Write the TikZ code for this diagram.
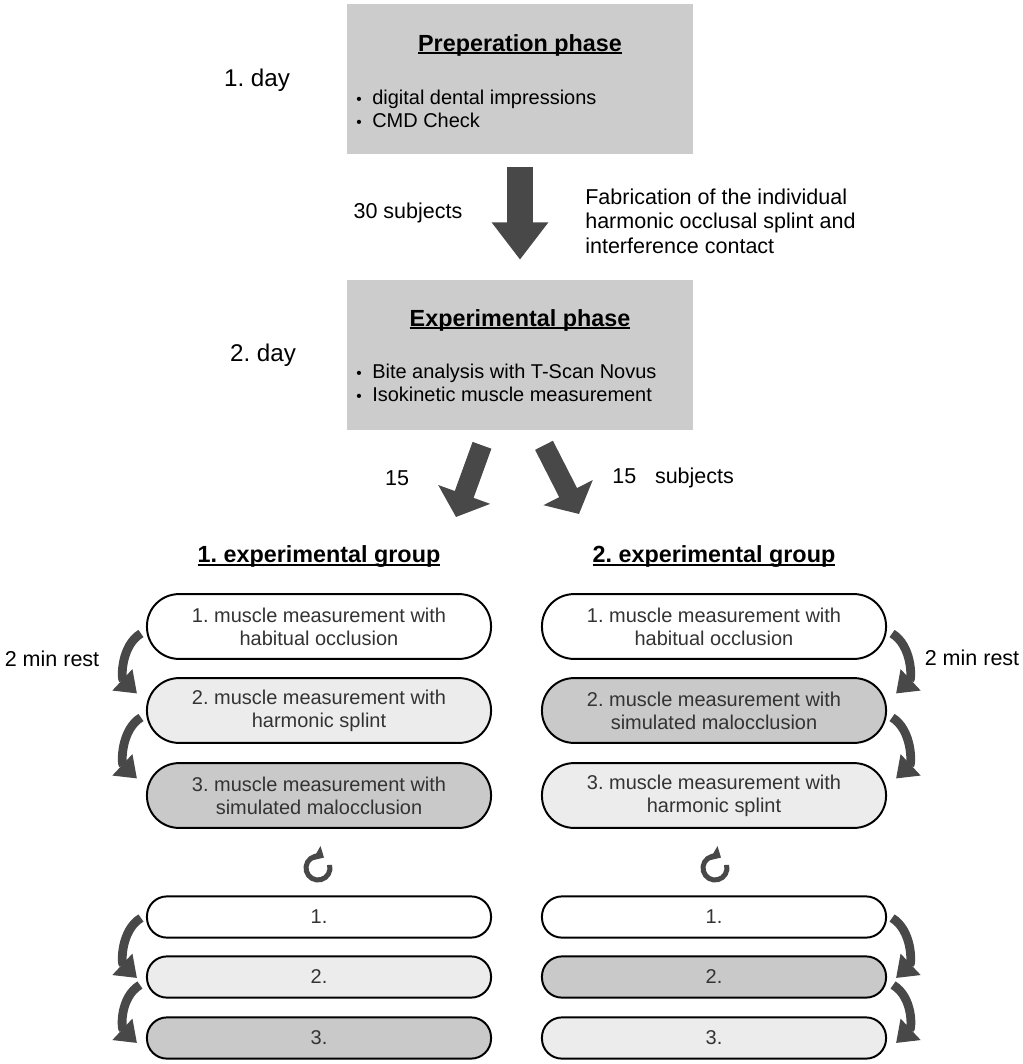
\documentclass[tikz,border=0pt]{standalone}
\usepackage{fontspec}
\setmainfont{Liberation Sans}
\usetikzlibrary{arrows.meta, positioning}
\definecolor{phasegray}{RGB}{204,204,204}
\definecolor{lightgray}{RGB}{236,236,236}
\definecolor{midgray}{RGB}{201,201,201}
\definecolor{arrowgray}{RGB}{72,72,72}
\definecolor{boxtext}{RGB}{51,51,51}
\frenchspacing
\newcommand{\bodyfont}{\fontsize{14.2}{16.4}\selectfont}
\newcommand{\headfont}{\fontsize{16.6}{20}\selectfont\bfseries}
\newcommand{\labelfont}{\fontsize{15.3}{17.4}\selectfont}
\newcommand{\dayfont}{\fontsize{17.2}{20}\selectfont}
\newcommand{\itm}{\makebox[0.4cm][l]{\fontsize{11}{12}\selectfont\textbullet}}
\newsavebox{\headbox}
\newcommand{\headline}[1]{\sbox\headbox{#1}\rlap{\rule[-2pt]{\wd\headbox}{1.1pt}}\usebox\headbox}

\begin{document}
\begin{tikzpicture}[x=0.025cm, y=-0.025cm,
    phase/.style={fill=phasegray, minimum width=8.65cm, minimum height=3.75cm, inner sep=0pt},
    stepbox/.style={draw=black, line width=1.4pt, rounded corners=0.8cm, minimum width=8.6cm,
      minimum height=1.62cm, align=center, text=boxtext, font=\bodyfont, inner sep=0pt},
    shortbox/.style={stepbox, rounded corners=0.5cm, minimum height=1.03cm},
    bigarrow/.style={line width=0.65cm, arrowgray, -{Triangle[width=1.35cm, length=0.93cm]}},
    splitarrow/.style={line width=0.5cm, arrowgray, -{Triangle[width=1.35cm, length=0.6cm]}},
    turn/.style={line width=0.22cm, arrowgray, -{Triangle[width=0.7cm, length=0.5cm]}},
    redo/.style={line width=0.125cm, arrowgray, -{Triangle[width=0.4cm, length=0.22cm]}}]
    \useasboundingbox (0,0) rectangle (1022,1064);

    % Preparation phase, day 1
    \node[phase] (prep) at (520,79) {};
    \node[font=\headfont] (preptitle) at (520,45) {\headline{Preperation phase}};
    \node[font=\bodyfont, align=left, anchor=west, inner sep=0pt] (preplist) at (356,108.5)
      {\itm digital dental impressions\\ \itm CMD Check};
    \node[font=\dayfont] (day1) at (257,80) {1. day};

    % Experimental phase, day 2
    \node[phase] (exp) at (520,355) {};
    \node[font=\headfont] (exptitle) at (520,320) {\headline{Experimental phase}};
    \node[font=\bodyfont, align=left, anchor=west, inner sep=0pt] (explist) at (356,382.5)
      {\itm Bite analysis with T-Scan Novus\\ \itm Isokinetic muscle measurement};
    \node[font=\dayfont] (day2) at (263,355) {2. day};

    % From day 1 to day 2
    \draw[bigarrow, shorten <=0.325cm, shorten >=0.5cm] (prep.south) -- (exp.north);
    \node[font=\labelfont] (n30) at (408,213) {30 subjects};
    \node[font=\labelfont, align=left, anchor=west, inner sep=0pt] (fab) at (585,221)
      {Fabrication of the individual\\ harmonic occlusal splint and\\ interference contact};

    % Split into the two groups
    \coordinate (tip1) at (456,517);
    \coordinate (tip2) at (579,514);
    \draw[splitarrow] ([shift={(-38,15)}]exp.south) -- (tip1);
    \draw[splitarrow] ([shift={(24,15)}]exp.south) -- (tip2);
    \node[font=\labelfont] (n15a) at (397,478) {15};
    \node[font=\labelfont, anchor=west, inner sep=0pt] (n15b) at (612,478) {15\hspace{0.47cm}subjects};

    % Group 1
    \node[font=\headfont] (g1title) at (319,557) {\headline{1. experimental group}};
    \node[stepbox, fill=white] (a1) at (319,626.5) {1. muscle measurement with\\ habitual occlusion};
    \node[stepbox, fill=lightgray] (a2) at (319,710.5) {2. muscle measurement with\\ harmonic splint};
    \node[stepbox, fill=midgray] (a3) at (319,795.5) {3. muscle measurement with\\ simulated malocclusion};
    \draw[turn] ([shift={(-5,7)}]a1.west) .. controls +(-20,12) and +(-16,-15) .. ([shift={(-9,-17)}]a2.west);
    \draw[turn] ([shift={(-5,7)}]a2.west) .. controls +(-20,12) and +(-16,-15) .. ([shift={(-9,-17)}]a3.west);
    \node[font=\labelfont] (rest1) at (52,659) {2 min rest};

    % Group 2
    \node[font=\headfont] (g2title) at (714,557) {\headline{2. experimental group}};
    \node[stepbox, fill=white] (c1) at (714,626.5) {1. muscle measurement with\\ habitual occlusion};
    \node[stepbox, fill=midgray] (c2) at (714,710.5) {2. muscle measurement with\\ simulated malocclusion};
    \node[stepbox, fill=lightgray] (c3) at (714,795.5) {3. muscle measurement with\\ harmonic splint};
    \draw[turn] ([shift={(5,7)}]c1.east) .. controls +(20,12) and +(16,-15) .. ([shift={(9,-17)}]c2.east);
    \draw[turn] ([shift={(5,7)}]c2.east) .. controls +(20,12) and +(16,-15) .. ([shift={(9,-17)}]c3.east);
    \node[font=\labelfont] (rest2) at (972,658) {2 min rest};

    % Repetition
    \coordinate (r1) at (318,868);
    \coordinate (r2) at (715,868);
    \draw[redo] ([shift={(15:0.3cm)}]r1) arc[start angle=15, end angle=-300, radius=0.3cm];
    \draw[redo] ([shift={(15:0.3cm)}]r2) arc[start angle=15, end angle=-300, radius=0.3cm];

    \node[shortbox, fill=white] (b1) at (319,917) {1.};
    \node[shortbox, fill=lightgray] (b2) at (319,977) {2.};
    \node[shortbox, fill=midgray] (b3) at (319,1038) {3.};
    \draw[turn] ([shift={(-5,1)}]b1.west) .. controls +(-20,12) and +(-16,-15) .. ([shift={(-9,1)}]b2.west);
    \draw[turn] ([shift={(-6,8)}]b2.west) .. controls +(-20,12) and +(-16,-15) .. ([shift={(-9,5)}]b3.west);

    \node[shortbox, fill=white] (d1) at (714,917) {1.};
    \node[shortbox, fill=midgray] (d2) at (714,977) {2.};
    \node[shortbox, fill=lightgray] (d3) at (714,1038) {3.};
    \draw[turn] ([shift={(5,1)}]d1.east) .. controls +(20,12) and +(16,-15) .. ([shift={(9,1)}]d2.east);
    \draw[turn] ([shift={(6,8)}]d2.east) .. controls +(20,12) and +(16,-15) .. ([shift={(9,5)}]d3.east);
\end{tikzpicture}
\end{document}
